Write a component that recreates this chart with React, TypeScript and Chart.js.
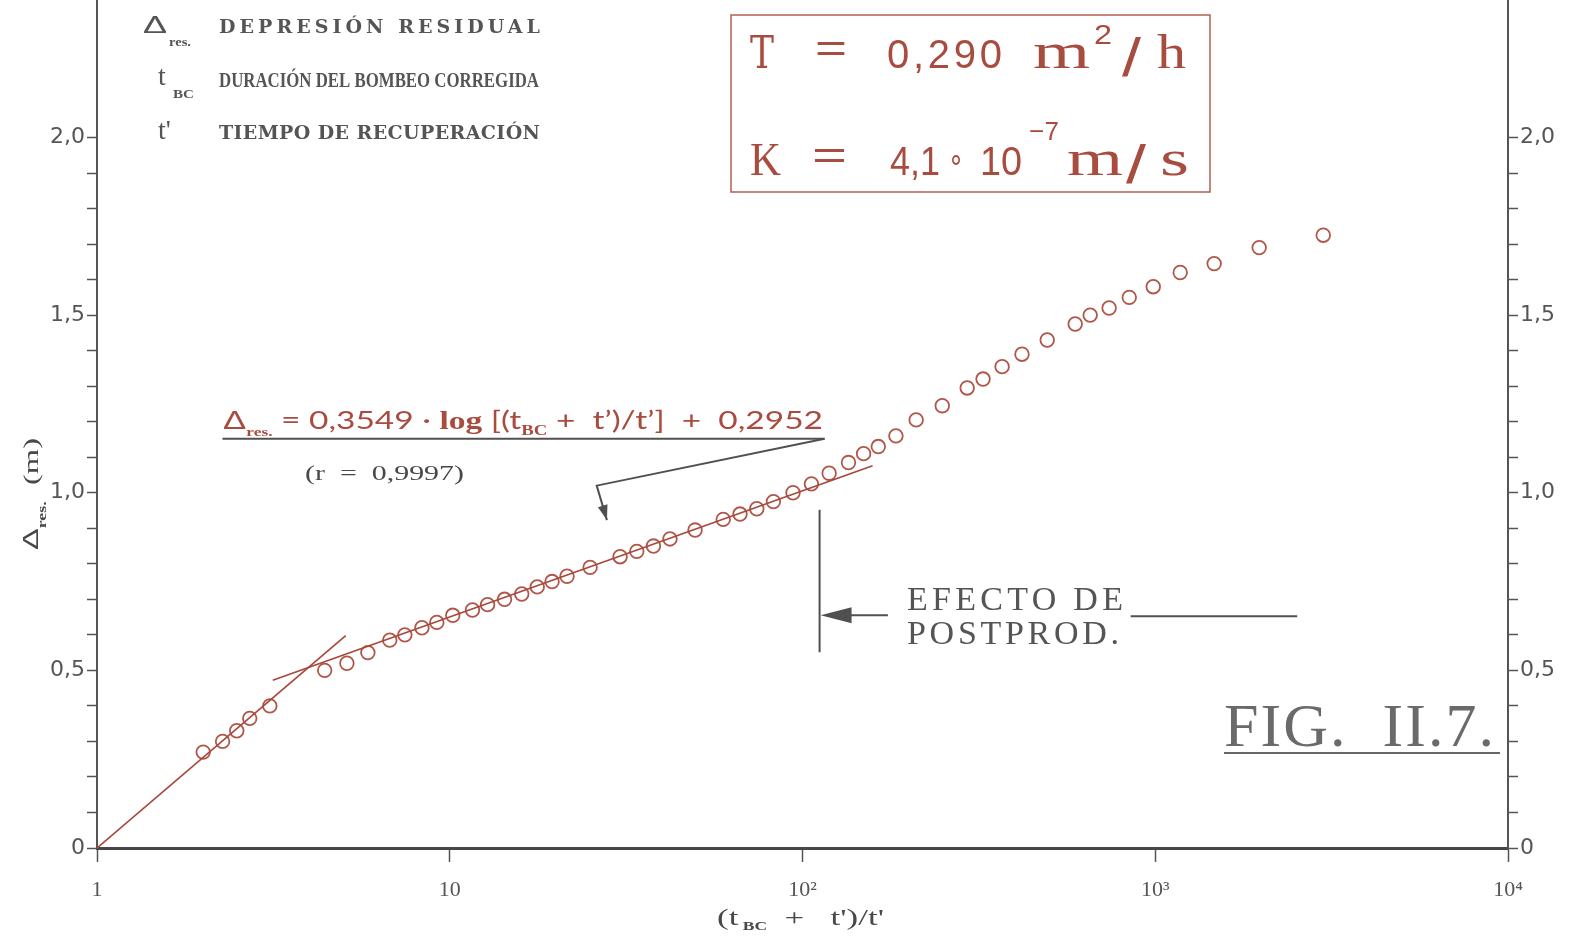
import React, { useEffect, useRef } from 'react';
import { Chart, registerables } from 'chart.js';

Chart.register(...registerables);

// ---------- data ----------
const ratioValues = [2.0, 2.27, 2.49, 2.71, 3.09, 4.42, 5.11, 5.86, 6.76, 7.46, 8.34, 9.19, 10.2, 11.6, 12.8, 14.3, 16.0, 17.7, 19.5, 21.5, 25.0, 30.4, 33.9, 37.8, 42.1, 49.6, 59.6, 66.5, 74.2, 82.7, 94.0, 106, 119, 135, 149, 164, 184, 210, 249, 293, 325, 368, 419, 494, 593, 654, 740, 844, 987, 1177, 1469, 1971, 2994];
const residualDrawdown = [0.27, 0.30, 0.33, 0.365, 0.40, 0.50, 0.52, 0.55, 0.585, 0.60, 0.62, 0.635, 0.655, 0.67, 0.685, 0.70, 0.715, 0.735, 0.75, 0.765, 0.79, 0.82, 0.835, 0.85, 0.87, 0.895, 0.925, 0.94, 0.955, 0.975, 1.0, 1.025, 1.055, 1.085, 1.11, 1.13, 1.16, 1.205, 1.245, 1.295, 1.32, 1.355, 1.39, 1.43, 1.475, 1.50, 1.52, 1.55, 1.58, 1.62, 1.645, 1.69, 1.725];

const earlyLineX = [1, 5.07];
const earlyLineY = [0, 0.598];
const fitLineX = [3.15, 158];
const fitLineY = [0.472, 1.076];

const xTickValues = [1, 10, 100, 1000, 10000];
const xTickLabels = ['1', '10', '10²', '10³', '10⁴'];
const yTickValues = [0, 0.1, 0.2, 0.3, 0.4, 0.5, 0.6, 0.7, 0.8, 0.9, 1.0, 1.1, 1.2, 1.3, 1.4, 1.5, 1.6, 1.7, 1.8, 1.9, 2.0];
const yLabelValues = [0, 0.5, 1.0, 1.5, 2.0];
const yLabelTexts = ['0', '0,5', '1,0', '1,5', '2,0'];
const Y_MAX = 2.387;

// ---------- styles ----------
const W = 1573;
const H = 942;
const GRAY = '#555555';
const DARK = '#484848';
const RED = '#a94c40';
const POINT_RED = '#b0574a';
const LINE_RED = '#a8483c';
const SERIF = '"Liberation Serif", "DejaVu Serif", serif';
const DSERIF = '"DejaVu Serif", "Liberation Serif", serif';
const SANS = '"Liberation Sans", "DejaVu Sans", sans-serif';

type Run = { t: string; font: string; color?: string; dy?: number };

function drawRuns(ctx: CanvasRenderingContext2D, runs: Run[], x: number, y: number, width: number | null, color: string) {
  ctx.save();
  ctx.textBaseline = 'alphabetic';
  ctx.textAlign = 'left';
  let total = 0;
  const ws = runs.map((r) => {
    ctx.font = r.font;
    const w = ctx.measureText(r.t).width;
    total += w;
    return w;
  });
  const sx = width ? width / total : 1;
  ctx.translate(x, y);
  ctx.scale(sx, 1);
  let cx = 0;
  runs.forEach((r, i) => {
    ctx.font = r.font;
    ctx.fillStyle = r.color || color;
    ctx.fillText(r.t, cx, r.dy || 0);
    cx += ws[i];
  });
  ctx.restore();
}

function drawSpaced(ctx: CanvasRenderingContext2D, s: string, x: number, y: number, width: number, font: string, color: string) {
  ctx.save();
  ctx.font = font;
  ctx.fillStyle = color;
  ctx.textBaseline = 'alphabetic';
  ctx.textAlign = 'left';
  const m = ctx.measureText(s).width;
  const n = Array.from(s).length;
  const anyCtx = ctx as any;
  if (width >= m && n > 1 && 'letterSpacing' in anyCtx) {
    anyCtx.letterSpacing = ((width - m) / (n - 1)).toFixed(2) + 'px';
    ctx.fillText(s, x, y);
  } else {
    ctx.translate(x, y);
    ctx.scale(width / m, 1);
    ctx.fillText(s, 0, 0);
  }
  ctx.restore();
}

function arrowHead(ctx: CanvasRenderingContext2D, fx: number, fy: number, tx: number, ty: number, len: number, half: number) {
  const a = Math.atan2(ty - fy, tx - fx);
  const bx = tx - len * Math.cos(a);
  const by = ty - len * Math.sin(a);
  ctx.beginPath();
  ctx.moveTo(tx, ty);
  ctx.lineTo(bx + half * Math.sin(a), by - half * Math.cos(a));
  ctx.lineTo(bx - half * Math.sin(a), by + half * Math.cos(a));
  ctx.closePath();
  ctx.fill();
}

const whiteBg = {
  id: 'whiteBg',
  beforeDraw(chart: any) {
    const ctx = chart.ctx;
    ctx.save();
    ctx.fillStyle = '#ffffff';
    ctx.fillRect(0, 0, chart.width, chart.height);
    ctx.restore();
  },
};

const annotations = {
  id: 'annotations',
  afterDraw(chart: any) {
    const ctx: CanvasRenderingContext2D = chart.ctx;
    const xs = chart.scales.x;
    const ys = chart.scales.y;
    const px = (v: number) => xs.getPixelForValue(v);
    const py = (v: number) => ys.getPixelForValue(v);

    ctx.save();

    // ----- legend (top-left) -----
    drawRuns(ctx, [{ t: 'Δ', font: `24px ${SANS}` }], 143, 33, 24, GRAY);
    drawRuns(ctx, [{ t: 'res.', font: `bold 12px ${SERIF}` }], 169, 46, 22, GRAY);
    drawSpaced(ctx, 'DEPRESIÓN RESIDUAL', 219, 33, 321, `bold 19px ${DSERIF}`, GRAY);

    drawRuns(ctx, [{ t: 't', font: `28px ${SERIF}` }], 158, 85, null, GRAY);
    drawRuns(ctx, [{ t: 'BC', font: `bold 13px ${SERIF}` }], 173, 98, 21, GRAY);
    drawSpaced(ctx, 'DURACIÓN DEL BOMBEO CORREGIDA', 219, 87, 320, `bold 22px ${SERIF}`, GRAY);

    drawRuns(ctx, [{ t: "t'", font: `28px ${SERIF}` }], 158, 139, null, GRAY);
    drawSpaced(ctx, 'TIEMPO DE RECUPERACIÓN', 219, 139, 321, `bold 19px ${DSERIF}`, GRAY);

    // ----- T / K box -----
    ctx.strokeStyle = '#b56a5e';
    ctx.lineWidth = 1.6;
    ctx.strokeRect(731, 15, 479, 177);
    drawSpaced(ctx, 'T', 750, 68, 24, `44px ${DSERIF}`, RED);
    drawSpaced(ctx, '=', 815, 62, 32, `40px ${SANS}`, RED);
    drawSpaced(ctx, '0,290', 887, 68, 115, `40px ${SANS}`, RED);
    drawSpaced(ctx, 'm', 1033, 68, 57, `50px ${SERIF}`, RED);
    drawSpaced(ctx, '2', 1094, 44, 18, `28px ${SANS}`, RED);
    drawSpaced(ctx, '/', 1122, 76, 19, `54px ${SANS}`, RED);
    drawSpaced(ctx, 'h', 1157, 68, 29, `48px ${SERIF}`, RED);

    drawSpaced(ctx, 'K', 750, 175, 31, `46px ${SERIF}`, RED);
    drawSpaced(ctx, '=', 812, 169, 35, `40px ${SANS}`, RED);
    drawSpaced(ctx, '4,1', 890, 175, 50, `40px ${SANS}`, RED);
    drawSpaced(ctx, '∘', 948, 170, 16, `32px "DejaVu Sans", sans-serif`, RED);
    drawSpaced(ctx, '10', 980, 175, 42, `40px ${SANS}`, RED);
    drawSpaced(ctx, '−7', 1029, 140, 30, `26px ${SANS}`, RED);
    drawSpaced(ctx, 'm', 1067, 175, 56, `50px ${SERIF}`, RED);
    drawSpaced(ctx, '/', 1126, 183, 20, `54px ${SANS}`, RED);
    drawSpaced(ctx, 's', 1160, 175, 29, `50px ${SERIF}`, RED);

    // ----- regression equation -----
    drawRuns(
      ctx,
      [
        { t: 'Δ', font: `26px ${SANS}` },
        { t: 'res.', font: `bold 13px ${SERIF}`, dy: 7 },
        { t: ' = 0,3549 · ', font: `25px Lato, ${SANS}` },
        { t: 'log', font: `bold 25px ${SERIF}` },
        { t: ' [(t', font: `25px Lato, ${SANS}` },
        { t: 'BC', font: `bold 14px ${SERIF}`, dy: 6 },
        { t: ' +  t’)/t’]  +  0,2952', font: `25px Lato, ${SANS}` },
      ],
      223, 429, 600, RED
    );
    drawRuns(ctx, [{ t: '(r  =  0,9997)', font: `20px ${SERIF}` }], 305, 480, 159, DARK);

    ctx.strokeStyle = '#505050';
    ctx.fillStyle = '#505050';
    ctx.lineWidth = 2;
    // underline of the equation and the leader arrow
    const uy = py(1.152);
    ctx.beginPath();
    ctx.moveTo(px(2.268), uy);
    ctx.lineTo(px(115.5), uy);
    ctx.stroke();
    const bx = px(26.1), by = py(1.02);
    const tx = px(27.9), ty = py(0.923);
    ctx.beginPath();
    ctx.moveTo(px(115.5), uy);
    ctx.lineTo(bx, by);
    ctx.lineTo(tx, ty);
    ctx.stroke();
    arrowHead(ctx, bx, by, tx, ty, 15, 5);

    // ----- post-production effect -----
    const vx = px(111.8);
    ctx.beginPath();
    ctx.moveTo(vx, py(0.952));
    ctx.lineTo(vx, py(0.551));
    ctx.stroke();
    const ay = py(0.655);
    ctx.beginPath();
    ctx.moveTo(px(174.6), ay);
    ctx.lineTo(vx + 20, ay);
    ctx.stroke();
    arrowHead(ctx, px(174.6), ay, vx + 1, ay, 31, 8);
    ctx.beginPath();
    ctx.moveTo(px(852), py(0.652));
    ctx.lineTo(px(2526), py(0.652));
    ctx.stroke();
    drawSpaced(ctx, 'EFECTO DE', 907, 610, 216, `34px ${SERIF}`, GRAY);
    drawSpaced(ctx, 'POSTPROD.', 907, 644, 212, `34px ${SERIF}`, GRAY);

    // ----- figure label -----
    drawSpaced(ctx, 'FIG.  II.7.', 1224, 746, 270, `62px ${SERIF}`, '#6a6a6a');
    ctx.strokeStyle = '#666666';
    ctx.lineWidth = 2;
    ctx.beginPath();
    ctx.moveTo(1224, 753);
    ctx.lineTo(1500, 753);
    ctx.stroke();

    // ----- axis titles -----
    drawRuns(
      ctx,
      [
        { t: '(t', font: `24px ${SERIF}` },
        { t: ' BC', font: `bold 12px ${SERIF}`, dy: 5 },
        { t: "  +   t')/t'", font: `24px ${SERIF}` },
      ],
      717, 925, 167, DARK
    );

    ctx.save();
    ctx.translate(38, 490);
    ctx.rotate(-Math.PI / 2);
    drawRuns(
      ctx,
      [
        { t: 'Δ', font: `22px ${SANS}` },
        { t: 'res.', font: `bold 12px ${SERIF}`, dy: 8 },
        { t: '  (m)', font: `22px ${SERIF}` },
      ],
      -60, 0, 112, DARK
    );
    ctx.restore();

    ctx.restore();
  },
};

function yLabel(v: number): string {
  const i = yLabelValues.findIndex((l) => Math.abs(l - v) < 1e-6);
  return i >= 0 ? yLabelTexts[i] : '';
}

function yAxis(position: 'left' | 'right', width: number) {
  return {
    type: 'linear' as const,
    position,
    min: 0,
    max: Y_MAX,
    afterBuildTicks: (s: any) => {
      s.ticks = yTickValues.map((v) => ({ value: v }));
    },
    afterFit: (s: any) => {
      s.width = width;
      s.paddingTop = 0;
      s.paddingBottom = 0;
    },
    ticks: {
      callback: (v: any) => yLabel(Number(v)),
      font: { family: '"DejaVu Sans", "Liberation Sans", sans-serif', size: 22 },
      color: GRAY,
      padding: 2,
      autoSkip: false,
    },
    grid: { drawOnChartArea: false, drawTicks: true, tickLength: 10, tickColor: GRAY, tickWidth: 1.5 },
    border: { display: true, color: GRAY, width: 2 },
  };
}

export default function App() {
  const ref = useRef<HTMLCanvasElement>(null);

  useEffect(() => {
    const canvas = ref.current;
    if (!canvas) return;
    const chart = new Chart(canvas, {
      type: 'scatter',
      data: {
        datasets: [
          {
            label: 'Línea inicial',
            data: earlyLineX.map((x, i) => ({ x, y: earlyLineY[i] })),
            showLine: true,
            borderColor: LINE_RED,
            borderWidth: 1.7,
            pointRadius: 0,
          },
          {
            label: 'Ajuste',
            data: fitLineX.map((x, i) => ({ x, y: fitLineY[i] })),
            showLine: true,
            borderColor: LINE_RED,
            borderWidth: 1.7,
            pointRadius: 0,
          },
          {
            label: 'Δres.',
            data: ratioValues.map((x, i) => ({ x, y: residualDrawdown[i] })),
            showLine: false,
            pointStyle: 'circle',
            pointRadius: 6.8,
            pointBorderWidth: 1.8,
            pointBorderColor: POINT_RED,
            pointBackgroundColor: 'rgba(0,0,0,0)',
          },
        ],
      },
      options: {
        animation: false,
        responsive: false,
        devicePixelRatio: 1,
        layout: { padding: 0, autoPadding: false },
        plugins: { legend: { display: false }, tooltip: { enabled: false }, title: { display: false } },
        scales: {
          x: {
            type: 'logarithmic',
            position: 'bottom',
            min: 1,
            max: 10000,
            afterBuildTicks: (s: any) => {
              s.ticks = xTickValues.map((v) => ({ value: v, major: true }));
            },
            afterFit: (s: any) => {
              s.height = H - 848;
              s.paddingLeft = 0;
              s.paddingRight = 0;
            },
            ticks: {
              callback: (_v: any, i: number) => xTickLabels[i],
              font: { family: '"Liberation Serif", "DejaVu Serif", serif', size: 22 },
              color: GRAY,
              padding: 15,
              maxRotation: 0,
              autoSkip: false,
            },
            grid: { drawOnChartArea: false, drawTicks: true, tickLength: 14, tickColor: GRAY, tickWidth: 1.5 },
            border: { display: true, color: '#474747', width: 3 },
          },
          y: yAxis('left', 97),
          y2: yAxis('right', W - 1508),
        },
      } as any,
      plugins: [whiteBg, annotations],
    });
    return () => chart.destroy();
  }, []);

  return (
    <div style={{ position: 'fixed', left: 0, top: 0, width: W, height: H, background: '#fff' }}>
      <canvas ref={ref} width={W} height={H} style={{ display: 'block', width: W, height: H }} />
    </div>
  );
}
